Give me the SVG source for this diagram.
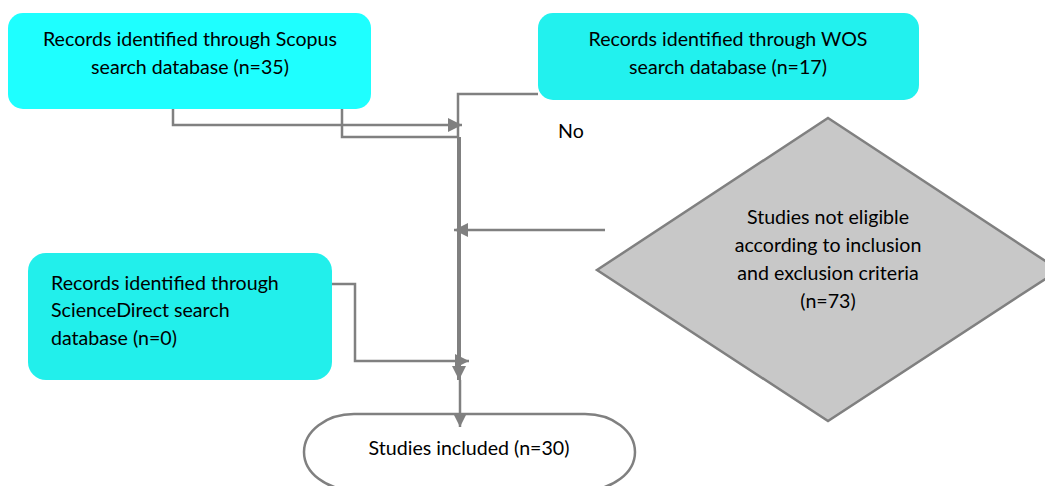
<svg xmlns="http://www.w3.org/2000/svg" width="1045" height="486" viewBox="0 0 1045 486">
<style>
.t{font-family:Lato,"Liberation Sans",sans-serif;font-size:19.6px;fill:#000}
.m{text-anchor:middle}
.ln{fill:none;stroke:#808080;stroke-width:2.5}
.thick{fill:none;stroke:#808080;stroke-width:4}
.box{stroke:none}
</style>
<defs>
<marker id="ah" markerUnits="userSpaceOnUse" markerWidth="14" markerHeight="14" refX="14" refY="7" orient="auto" viewBox="0 0 14 14">
<path d="M0,0 L14,7 L0,14 z" fill="#808080"/>
</marker>
</defs>
<rect width="1045" height="486" fill="#fff"/>
<g id="n-scopus">
<rect class="box" x="8" y="13" width="363" height="96" rx="15" fill="#1effff"/>
<text class="t m" x="190" y="46">Records identified through Scopus</text>
<text class="t m" x="190" y="74">search database (n=35)</text>
</g>
<g id="n-wos">
<rect class="box" x="538" y="13" width="381" height="87" rx="15" fill="#22f1ee"/>
<text class="t m" x="728" y="46">Records identified through WOS</text>
<text class="t m" x="728" y="74">search database (n=17)</text>
</g>
<g id="n-sd">
<rect class="box" x="28" y="253" width="304" height="127" rx="18" fill="#22efeb"/>
<text class="t" x="51" y="290">Records identified through</text>
<text class="t" x="51" y="317">ScienceDirect search</text>
<text class="t" x="51" y="345">database (n=0)</text>
</g>
<g id="n-excl">
<polygon points="828,118 1059,270 828,421 597,270" fill="#c8c8c8" stroke="#808080" stroke-width="2.5"/>
<text class="t m" x="828" y="224">Studies not eligible</text>
<text class="t m" x="828" y="252">according to inclusion</text>
<text class="t m" x="828" y="280">and exclusion criteria</text>
<text class="t m" x="828" y="308">(n=73)</text>
</g>
<g id="n-included">
<rect x="304" y="414" width="331" height="76" rx="50" ry="38" fill="#fff" stroke="#808080" stroke-width="2.5"/>
<text class="t m" x="469" y="455">Studies included (n=30)</text>
</g>
<g id="connectors">
<path class="ln" d="M173,109 V125 H462" marker-end="url(#ah)"/>
<path class="ln" d="M342,109 V137 H459"/>
<path class="ln" d="M538,94 H458 V137"/>
<path class="thick" d="M459,137 V380" marker-end="url(#ah)"/>
<path class="ln" d="M605,230 H454" marker-end="url(#ah)"/>
<path class="ln" d="M332,284 H355 V361 H469" marker-end="url(#ah)"/>
<path class="ln" d="M460,380 V427" marker-end="url(#ah)"/>
<text class="t" x="558" y="138">No</text>
</g>
</svg>
